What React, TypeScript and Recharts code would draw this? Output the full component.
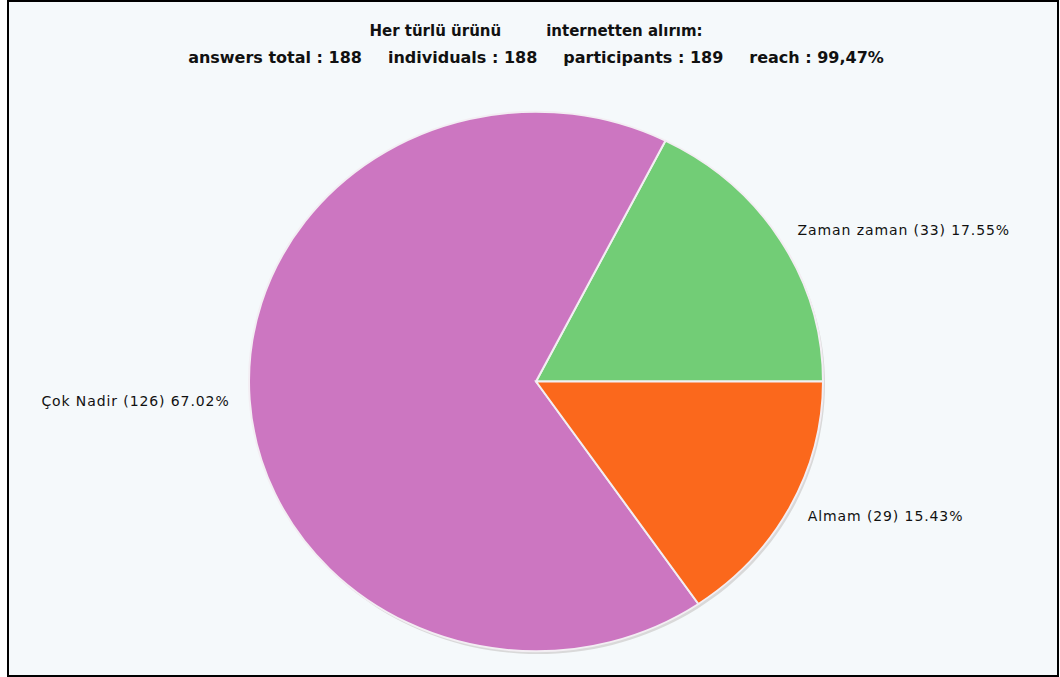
import { Pie, PieChart } from "recharts";

const sliceNames = ["Zaman zaman", "Çok Nadir", "Almam"];
const sliceCounts = [33, 126, 29];
const slicePercents = ["17.55%", "67.02%", "15.43%"];
const sliceColors = ["#72cd76", "#cc76c1", "#fb681c"];

const titleParts = ["Her türlü ürünü", "internetten alırım:"];
const statLabels = ["answers total", "individuals", "participants", "reach"];
const statValues = ["188", "188", "189", "99,47%"];

const chartData = sliceNames.map((name, i) => ({
  name,
  value: sliceCounts[i],
  fill: sliceColors[i],
}));
const shadowData = [{ name: "shadow", value: sliceCounts.reduce((a, b) => a + b, 0) }];

const CX = 527;
const CY = 379.5;
const RADIUS = 287;
const SQUASH = 0.94;
const RADIAN = Math.PI / 180;

function renderLabel(props: any) {
  const { midAngle, index } = props;
  const k = 1.07;
  const cos = Math.cos(midAngle * RADIAN);
  const sin = Math.sin(midAngle * RADIAN);
  const x = CX + RADIUS * k * cos;
  const y = CY - RADIUS * SQUASH * k * sin;
  return (
    <text
      x={x}
      y={y}
      fill="#111"
      fontSize={14}
      letterSpacing={0.9}
      fontFamily="'DejaVu Sans', Verdana, sans-serif"
      textAnchor={cos >= 0 ? "start" : "end"}
      dominantBaseline="central"
    >
      {`${sliceNames[index]} (${sliceCounts[index]}) ${slicePercents[index]}`}
    </text>
  );
}

export default function App() {
  return (
    <div
      style={{
        position: "absolute",
        left: 7,
        top: 0,
        width: 1052,
        height: 677,
        boxSizing: "border-box",
        border: "2px solid #000",
        background: "#f5f9fb",
        fontFamily: "'DejaVu Sans', Verdana, sans-serif",
      }}
    >
      <style>{`
        .ellipse-pie .recharts-pie-sector {
          transform-origin: ${CX}px ${CY}px;
          transform: scaleY(${SQUASH});
        }
      `}</style>
      <div
        style={{
          position: "absolute",
          left: 0,
          top: 20,
          width: 1054,
          textAlign: "center",
          fontWeight: "bold",
          fontSize: 15,
          color: "#111",
          whiteSpace: "pre",
        }}
      >
        {titleParts[0]}
        <span style={{ display: "inline-block", width: 45 }} />
        {titleParts[1]}
      </div>
      <div
        style={{
          position: "absolute",
          left: 0,
          top: 46,
          width: 1054,
          textAlign: "center",
          fontWeight: "bold",
          fontSize: 16,
          color: "#111",
          whiteSpace: "pre",
        }}
      >
        {statLabels.map((label, i) => (
          <span key={label}>
            {i > 0 ? <span style={{ display: "inline-block", width: 26 }} /> : null}
            {`${label} : ${statValues[i]}`}
          </span>
        ))}
      </div>
      <div style={{ position: "absolute", left: 0, top: 0 }}>
        <PieChart width={1048} height={673} margin={{ top: 0, right: 0, bottom: 0, left: 0 }}>
          <Pie
            className="ellipse-pie"
            data={shadowData}
            dataKey="value"
            cx={CX + 2}
            cy={CY + 3}
            outerRadius={RADIUS}
            startAngle={0}
            endAngle={360}
            fill="#d9d9d9"
            stroke="none"
            isAnimationActive={false}
            label={false}
            labelLine={false}
          />
          <Pie
            className="ellipse-pie"
            data={chartData}
            dataKey="value"
            nameKey="name"
            cx={CX}
            cy={CY}
            outerRadius={RADIUS}
            startAngle={0}
            endAngle={360}
            stroke="#f3eef3"
            strokeWidth={2}
            isAnimationActive={false}
            label={renderLabel}
            labelLine={false}
          />
        </PieChart>
      </div>
    </div>
  );
}
